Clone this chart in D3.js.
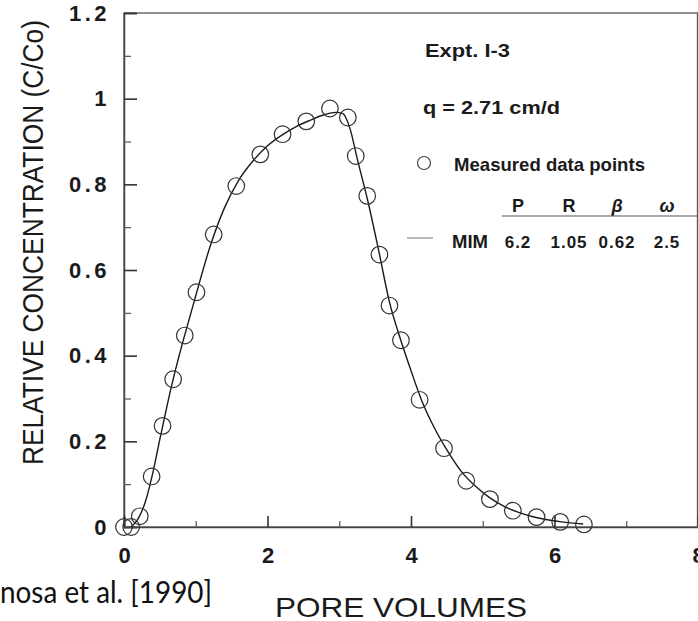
<!DOCTYPE html>
<html>
<head>
<meta charset="utf-8">
<script src="https://cdn.jsdelivr.net/npm/d3@7"></script>
<style>
  body { margin: 0; background: #fff; }
  svg { display: block; }
  .tick text { font-family: "Liberation Sans", Arial, sans-serif; }
</style>
</head>
<body>
<div id="chart"></div>
<script>
// measured data points (pore volumes, C/Co)
var measuredX = [0.0, 0.1, 0.22, 0.385, 0.537, 0.685, 0.847, 1.01, 1.25, 1.565, 1.9, 2.21, 2.54, 2.87,
                 3.12, 3.23, 3.39, 3.56, 3.7, 3.86, 4.12, 4.46, 4.77, 5.1, 5.42, 5.75, 6.08, 6.41];
var measuredY = [0.0, 0.0, 0.025, 0.118, 0.236, 0.345, 0.447, 0.548, 0.683, 0.796, 0.87, 0.917, 0.947, 0.977,
                 0.956, 0.866, 0.773, 0.636, 0.517, 0.436, 0.297, 0.184, 0.108, 0.065, 0.038, 0.023, 0.012, 0.006];

// fitted MIM curve
var fitX = [0.1, 0.2, 0.3, 0.4, 0.5, 0.6, 0.7, 0.8, 0.9, 1.0, 1.2, 1.4, 1.6, 1.8, 2.0, 2.2, 2.4, 2.6, 2.8, 2.95,
            3.05, 3.15, 3.25, 3.4, 3.55, 3.7, 3.85, 4.0, 4.15, 4.3, 4.5, 4.7, 4.9, 5.1, 5.3, 5.5, 5.7, 5.9, 6.1, 6.4];
var fitY = [0.0, 0.02, 0.06, 0.125, 0.205, 0.283, 0.355, 0.42, 0.48, 0.54, 0.655, 0.745, 0.81, 0.855, 0.89, 0.915, 0.935, 0.95, 0.963, 0.968,
            0.965, 0.93, 0.86, 0.76, 0.645, 0.525, 0.44, 0.365, 0.295, 0.24, 0.18, 0.13, 0.095, 0.068, 0.048, 0.034, 0.024, 0.017, 0.012, 0.007];

var xTicks = [0, 2, 4, 6, 8];
var xMinor = [1, 3, 5, 7];
var yTicks = [0, 0.2, 0.4, 0.6, 0.8, 1, 1.2];
var yMinor = [0.1, 0.3, 0.5, 0.7, 0.9, 1.1];

var paramNames = ["P", "R", "\u03B2", "\u03C9"];
var paramValues = ["6.2", "1.05", "0.62", "2.5"];

var W = 698, H = 621;
var svg = d3.select("#chart").append("svg").attr("width", W).attr("height", H);

var x = d3.scaleLinear().domain([0, 8]).range([124, 698]);
var y = d3.scaleLinear().domain([0, 1.2]).range([527, 13]);

var ink = "#1a1a1a";

// frame
svg.append("rect")
  .attr("x", x(0)).attr("y", y(1.2))
  .attr("width", x(8) - x(0) - 0.5).attr("height", y(0) - y(1.2))
  .attr("fill", "none").attr("stroke", "#555").attr("stroke-width", 1.3);

// y axis, ticks inward
var yAxis = svg.append("g").attr("transform", "translate(" + x(0) + ",0)")
  .call(d3.axisLeft(y).tickValues(yTicks).tickSize(-13).tickPadding(14)
    .tickFormat(function(d){ return String(+d.toFixed(1)); }));
yAxis.select(".domain").attr("stroke", "#444").attr("stroke-width", 1.5);
yAxis.selectAll(".tick line").attr("stroke", "#333").attr("stroke-width", 1.6);
yAxis.selectAll(".tick text").attr("font-size", 22).attr("font-weight", "bold")
  .attr("fill", ink).style("letter-spacing", "3.5px");

svg.append("g").attr("transform", "translate(" + x(0) + ",0)")
  .call(d3.axisLeft(y).tickValues(yMinor).tickSize(-7).tickFormat(""))
  .call(function(g){ g.select(".domain").remove(); g.selectAll("line").attr("stroke", "#555").attr("stroke-width", 1.2); });

// x axis, ticks inward
var xAxis = svg.append("g").attr("transform", "translate(0," + y(0) + ")")
  .call(d3.axisBottom(x).tickValues(xTicks).tickSize(-11).tickPadding(20));
xAxis.select(".domain").attr("stroke", "#444").attr("stroke-width", 1.5);
xAxis.selectAll(".tick line").attr("stroke", "#333").attr("stroke-width", 1.6);
xAxis.selectAll(".tick text").attr("font-size", 22).attr("font-weight", "bold").attr("fill", ink);

svg.append("g").attr("transform", "translate(0," + y(0) + ")")
  .call(d3.axisBottom(x).tickValues(xMinor).tickSize(-6).tickFormat(""))
  .call(function(g){ g.select(".domain").remove(); g.selectAll("line").attr("stroke", "#555").attr("stroke-width", 1.2); });

// fitted curve
var fit = fitX.map(function(d, i){ return [d, fitY[i]]; });
svg.append("path")
  .datum(fit)
  .attr("fill", "none").attr("stroke", ink).attr("stroke-width", 1.4)
  .attr("d", d3.line().x(function(d){ return x(d[0]); }).y(function(d){ return y(d[1]); }).curve(d3.curveMonotoneX));

// measured points
svg.append("g").selectAll("circle")
  .data(measuredX.map(function(d, i){ return [d, measuredY[i]]; }))
  .enter().append("circle")
  .attr("cx", function(d){ return x(d[0]); })
  .attr("cy", function(d){ return y(d[1]); })
  .attr("r", 8.3)
  .attr("fill", "none").attr("stroke", "#333").attr("stroke-width", 1.2);

// legend / annotation
var lg = svg.append("g").attr("font-family", "'Liberation Sans', Arial, sans-serif").attr("fill", ink);
lg.append("text").attr("x", 425).attr("y", 57).attr("font-size", 19).attr("font-weight", "bold")
  .attr("textLength", 85).attr("lengthAdjust", "spacingAndGlyphs").text("Expt. I-3");
lg.append("text").attr("x", 423).attr("y", 114).attr("font-size", 19).attr("font-weight", "bold")
  .attr("textLength", 137).attr("lengthAdjust", "spacingAndGlyphs").text("q = 2.71 cm/d");
lg.append("circle").attr("cx", 424).attr("cy", 163).attr("r", 6.5)
  .attr("fill", "none").attr("stroke", "#444").attr("stroke-width", 1.2);
lg.append("text").attr("x", 454).attr("y", 171).attr("font-size", 19).attr("font-weight", "bold")
  .attr("textLength", 191).attr("lengthAdjust", "spacingAndGlyphs").text("Measured data points");

var colX = [518, 569, 617, 667];
lg.selectAll(".pname").data(paramNames).enter().append("text")
  .attr("x", function(d, i){ return colX[i]; }).attr("y", 212)
  .attr("text-anchor", "middle").attr("font-size", 18).attr("font-weight", "bold")
  .attr("font-style", function(d, i){ return i > 1 ? "italic" : "normal"; })
  .text(function(d){ return d; });
lg.append("line").attr("x1", 502).attr("x2", 698).attr("y1", 216).attr("y2", 216)
  .attr("stroke", "#555").attr("stroke-width", 1.2);

lg.append("line").attr("x1", 407).attr("x2", 433).attr("y1", 238).attr("y2", 238)
  .attr("stroke", "#888").attr("stroke-width", 1.2);
lg.append("text").attr("x", 452).attr("y", 248).attr("font-size", 18).attr("font-weight", "bold")
  .attr("textLength", 36).attr("lengthAdjust", "spacingAndGlyphs").text("MIM");
lg.selectAll(".pval").data(paramValues).enter().append("text")
  .attr("x", function(d, i){ return colX[i]; }).attr("y", 248)
  .attr("text-anchor", "middle").attr("font-size", 17).attr("font-weight", "bold")
  .style("letter-spacing", "1px")
  .text(function(d){ return d; });

// axis titles
svg.append("text")
  .attr("transform", "translate(43,242.5) rotate(-90)")
  .attr("text-anchor", "middle")
  .attr("font-family", "'Liberation Sans', Arial, sans-serif")
  .attr("font-size", 30).attr("fill", ink)
  .attr("textLength", 445).attr("lengthAdjust", "spacingAndGlyphs")
  .text("RELATIVE CONCENTRATION  (C/Co)");

svg.append("text")
  .attr("x", 275).attr("y", 617)
  .attr("font-family", "'Liberation Sans', Arial, sans-serif")
  .attr("font-size", 28).attr("fill", ink)
  .attr("textLength", 252).attr("lengthAdjust", "spacingAndGlyphs")
  .text("PORE VOLUMES");

// source note (cropped at left in the original)
svg.append("text")
  .attr("x", 0).attr("y", 603)
  .attr("font-family", "Lato, 'Open Sans', sans-serif")
  .attr("font-size", 30).attr("fill", "#111")
  .attr("textLength", 212).attr("lengthAdjust", "spacingAndGlyphs")
  .text("nosa et al. [1990]");
</script>
</body>
</html>
